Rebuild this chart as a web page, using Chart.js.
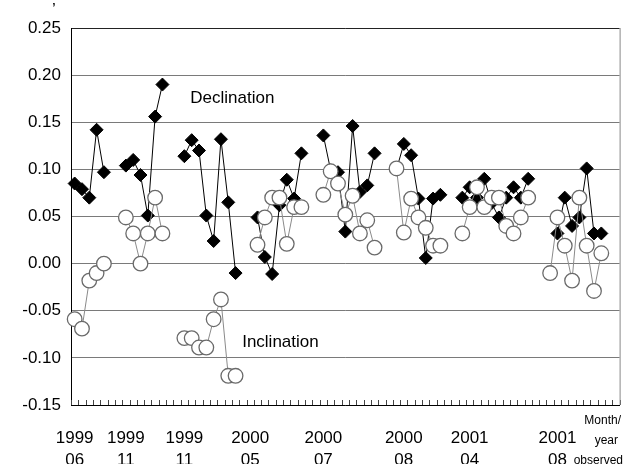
<!DOCTYPE html>
<html>
<head>
<meta charset="utf-8">
<title>Declination / Inclination</title>
<script src="https://cdn.jsdelivr.net/npm/chart.js@4/dist/chart.umd.min.js"></script>
<style>
  body { margin: 0; background: #fff; }
</style>
</head>
<body>
<canvas id="chart" width="630" height="464"></canvas>
<script>
// 75 observation slots, grouped by survey; nulls are the gaps between surveys
const slotCount = 75;
const surveyLabels = [['1999', '06'], ['1999', '11'], ['1999', '11'], ['2000', '05'],
                      ['2000', '07'], ['2000', '08'], ['2001', '04'], ['2001', '08']];
const surveySlots = [0, 7, 15, 24, 34, 45, 54, 66];

const declination = [
  0.085, 0.079, 0.070, 0.142, 0.097, null, null,
  0.104, 0.110, 0.094, 0.051, 0.156, 0.190, null, null,
  0.114, 0.131, 0.120, 0.051, 0.024, 0.132, 0.065, -0.010, null, null,
  0.049, 0.007, -0.011, 0.062, 0.089, 0.069, 0.117, null, null,
  0.136, 0.099, 0.097, 0.034, 0.146, 0.076, 0.083, 0.117, null, null,
  0.100, 0.127, 0.115, 0.069, 0.006, 0.069, 0.073, null, null,
  0.070, 0.081, 0.070, 0.090, 0.064, 0.049, 0.070, 0.081, 0.070, 0.090, null, null,
  null, 0.032, 0.070, 0.040, 0.049, 0.101, 0.032, 0.032, null, null
];

const inclination = [
  -0.059, -0.069, -0.018, -0.010, 0.000, null, null,
  0.049, 0.032, 0.000, 0.032, 0.070, 0.032, null, null,
  -0.079, -0.079, -0.089, -0.089, -0.059, -0.038, -0.119, -0.119, null, null,
  0.020, 0.049, 0.070, 0.070, 0.021, 0.060, 0.060, null, null,
  0.073, 0.098, 0.085, 0.052, 0.072, 0.032, 0.046, 0.017, null, null,
  0.101, 0.033, 0.069, 0.049, 0.038, 0.019, 0.019, null, null,
  0.032, 0.060, 0.081, 0.060, 0.070, 0.070, 0.040, 0.032, 0.049, 0.070, null, null,
  -0.010, 0.049, 0.019, -0.018, 0.070, 0.019, -0.029, 0.011, null, null
];

// series names written next to the curves (slot, value)
const seriesNotes = [
  { text: 'Declination', slot: 15.8, value: 0.175 },
  { text: 'Inclination', slot: 22.9, value: -0.084 }
];

const categories = [];
for (let i = 0; i < slotCount; i++) {
  const k = surveySlots.indexOf(i);
  categories.push(k >= 0 ? surveyLabels[k] : '');
}

const FONT = "'Liberation Sans', Arial, Helvetica, sans-serif";
Chart.defaults.font.family = FONT;
Chart.defaults.color = '#000';

// inner tick marks on the x axis, right frame line and the text notes
const extras = {
  id: 'extras',
  beforeDatasetsDraw(chart) {
    const { ctx, chartArea: a, scales: { x } } = chart;
    const step = x.getPixelForValue(1) - x.getPixelForValue(0);
    ctx.save();
    ctx.strokeStyle = '#444';
    ctx.lineWidth = 1;
    ctx.beginPath();
    for (let i = 0; i <= slotCount; i++) {
      const px = Math.round(x.getPixelForValue(i) - step / 2) + 0.5;
      ctx.moveTo(px, a.bottom);
      ctx.lineTo(px, a.bottom - 5);
    }
    ctx.stroke();
    ctx.strokeStyle = '#888';
    ctx.beginPath();
    ctx.moveTo(a.right + 0.5, a.top);
    ctx.lineTo(a.right + 0.5, a.bottom);
    ctx.stroke();
    ctx.restore();
  },
  afterDraw(chart) {
    const { ctx, scales: { x, y } } = chart;
    ctx.save();
    ctx.fillStyle = '#000';
    ctx.textBaseline = 'middle';
    ctx.font = '17px ' + FONT;
    ctx.textAlign = 'left';
    seriesNotes.forEach(n => {
      ctx.fillText(n.text, x.getPixelForValue(n.slot), y.getPixelForValue(n.value));
    });
    ctx.fillText('\u2019', 52, 10);
    ctx.font = '12px ' + FONT;
    ctx.textAlign = 'right';
    ctx.fillText('Month/', 621, 421);
    ctx.fillText('year', 618, 441);
    ctx.fillText('observed', 623, 461);
    ctx.restore();
  }
};

new Chart(document.getElementById('chart').getContext('2d'), {
  type: 'line',
  data: {
    labels: categories,
    datasets: [
      {
        label: 'Declination',
        data: declination,
        order: 2,
        borderColor: '#000',
        borderWidth: 1,
        pointStyle: 'rectRot',
        pointRadius: 6.5,
        pointBackgroundColor: '#000',
        pointBorderColor: '#000',
        pointBorderWidth: 1,
        tension: 0,
        spanGaps: false
      },
      {
        label: 'Inclination',
        data: inclination,
        order: 1,
        borderColor: '#8a8a8a',
        borderWidth: 1,
        pointStyle: 'circle',
        pointRadius: 7.3,
        pointBackgroundColor: '#fff',
        pointBorderColor: '#6a6a6a',
        pointBorderWidth: 1.3,
        tension: 0,
        spanGaps: false
      }
    ]
  },
  options: {
    responsive: false,
    animation: false,
    events: [],
    layout: { padding: { top: 28, right: 4, left: 0, bottom: 0 } },
    plugins: { legend: { display: false }, tooltip: { enabled: false } },
    scales: {
      x: {
        offset: true,
        grid: { display: false },
        border: { display: true, color: '#000', width: 1 },
        ticks: {
          autoSkip: false,
          maxRotation: 0,
          minRotation: 0,
          padding: 14,
          font: { size: 17, lineHeight: 1.3 }
        },
        afterFit: s => { s.height = 59; }
      },
      y: {
        min: -0.15,
        max: 0.25,
        grid: {
          drawTicks: false,
          color: c => (Math.abs(c.tick.value - 0.25) < 1e-6 ? '#222' : '#7a7a7a'),
          lineWidth: 1
        },
        border: { display: true, color: '#000', width: 1 },
        ticks: {
          stepSize: 0.05,
          padding: 10,
          font: { size: 17 },
          callback: v => v.toFixed(2)
        },
        afterFit: s => { s.width = 71; }
      }
    }
  },
  plugins: [extras]
});
</script>
</body>
</html>
